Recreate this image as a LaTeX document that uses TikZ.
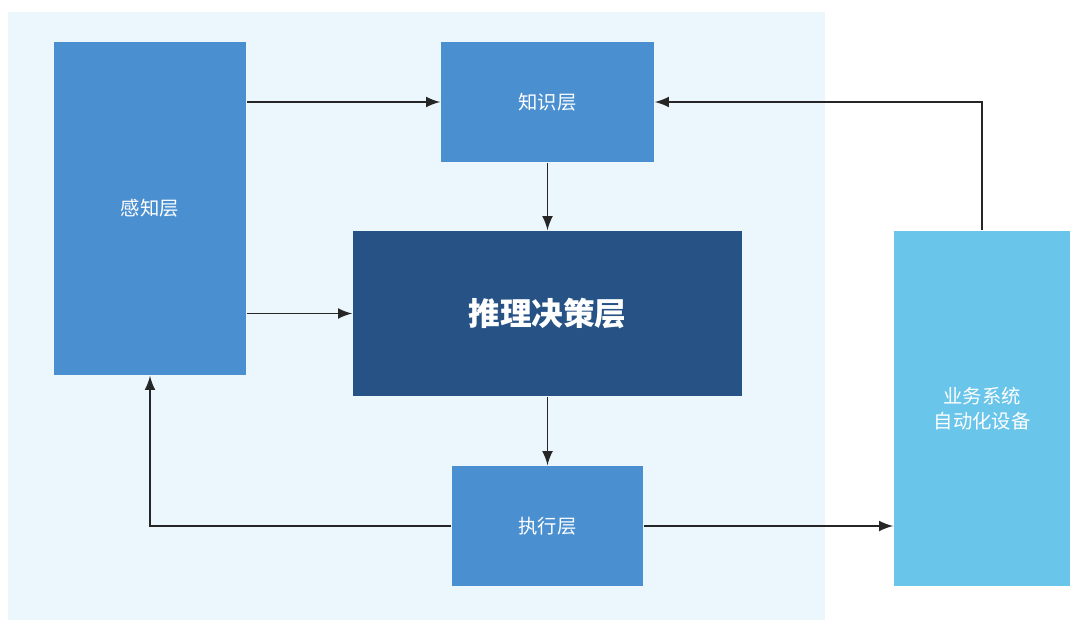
\documentclass[tikz,border=0pt]{standalone}
\usepackage{fontspec}
\setmainfont{Noto Sans CJK SC}
\usetikzlibrary{positioning,backgrounds}
\definecolor{bgblue}{HTML}{EBF7FC}
\definecolor{layerblue}{HTML}{4A8FD0}
\definecolor{darkblue}{HTML}{265285}
\definecolor{skyblue}{HTML}{6AC5EA}
\tikzset{
  layer/.style={fill=layerblue, text=white, font=\fontsize{5.5pt}{7pt}\selectfont, inner sep=0pt},
  arr/.style={->, >=latex, line width=0.4pt, black!85}
}
\begin{document}
\begin{tikzpicture}[x=0.01cm,y=-0.01cm]

\useasboundingbox (0,0) rectangle (1080,631);
\fill[bgblue] (8,12) rectangle (825,620);

\node[layer, minimum width=1.92cm, minimum height=3.33cm] (perc) at (150,208.5) {感知层};
\node[layer, minimum width=2.13cm, minimum height=1.2cm] (know) at (547.5,102) {知识层};
\node[layer, fill=darkblue, font=\fontsize{9pt}{11pt}\selectfont\bfseries, minimum width=3.89cm, minimum height=1.65cm] (dec) at (547.5,313.5) {推理决策层};
\node[layer, minimum width=1.91cm, minimum height=1.2cm] (exec) at (547.5,526) {执行层};
\node[layer, fill=skyblue, align=center, minimum width=1.76cm, minimum height=3.55cm] (biz) at (982,408.5) {业务系统\\自动化设备};

% connectors
\draw[arr] (perc.east |- know) -- (know.west);
\draw[arr] (perc.east |- dec) -- (dec.west);
\draw[arr] (know) -- (dec);
\draw[arr] (dec) -- (exec);
\draw[arr] (exec.west) -| (perc.south);
\draw[arr] (exec.east) -- (biz.west |- exec);
\draw[arr] (biz.north) |- (know.east);
\end{tikzpicture}
\end{document}
